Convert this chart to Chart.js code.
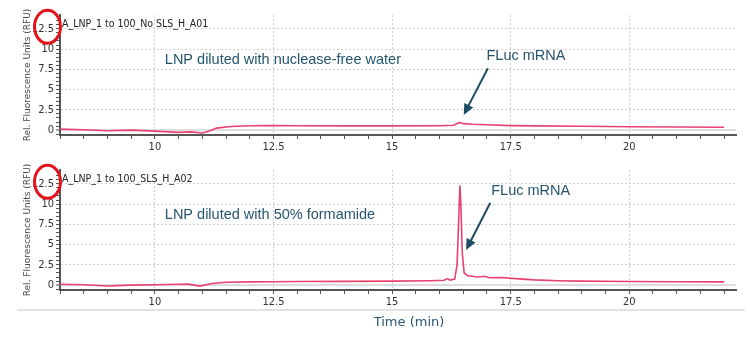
<!DOCTYPE html>
<html>
<head>
<meta charset="utf-8">
<script src="https://cdn.jsdelivr.net/npm/chart.js@4.4.0/dist/chart.umd.min.js"></script>
<style>
  body { margin: 0; background: #fff; }
  #wrap { position: relative; width: 750px; height: 340px; }
  .panel { position: absolute; left: 0; width: 750px; }
  #topPanel { top: 0; height: 155px; }
  #bottomPanel { top: 155px; height: 185px; }
</style>
</head>
<body>
<div id="wrap">
  <div class="panel" id="topPanel"><canvas id="topChart"></canvas></div>
  <div class="panel" id="bottomPanel"><canvas id="bottomChart"></canvas></div>
</div>
<script>
// 물 희석 트레이스 (시간 min / RFU)
const waterTime = [8.0, 8.5, 9.0, 9.5, 10.0, 10.5, 10.75, 11.0, 11.15, 11.3, 11.6, 12.0, 12.5, 13.0, 14.0, 15.0, 16.0, 16.3, 16.42, 16.5, 16.7, 17.0, 17.5, 18.0, 19.0, 20.0, 21.0, 22.0];
const waterRfu = [0.12, 0.05, -0.08, 0.0, -0.12, -0.27, -0.22, -0.36, -0.1, 0.25, 0.45, 0.55, 0.56, 0.54, 0.53, 0.53, 0.55, 0.6, 0.95, 0.8, 0.72, 0.66, 0.56, 0.52, 0.47, 0.42, 0.38, 0.35];

// 50% 포름아마이드 희석 트레이스
const formamideTime = [8.0, 8.5, 9.0, 9.5, 10.0, 10.5, 10.7, 10.95, 11.2, 11.5, 12.0, 12.5, 13.0, 14.0, 15.0, 15.8, 16.1, 16.17, 16.22, 16.32, 16.37, 16.41, 16.43, 16.45, 16.48, 16.52, 16.6, 16.8, 16.95, 17.05, 17.3, 17.6, 18.0, 18.5, 19.0, 20.0, 21.0, 22.0];
const formamideRfu = [0.1, 0.05, -0.1, 0.0, 0.05, 0.1, 0.12, -0.12, 0.2, 0.35, 0.4, 0.42, 0.45, 0.46, 0.5, 0.55, 0.6, 0.8, 0.62, 0.75, 2.5, 9.0, 12.3, 10.0, 4.0, 1.5, 1.15, 1.0, 1.1, 0.92, 0.95, 0.8, 0.65, 0.55, 0.5, 0.45, 0.42, 0.4];

// 눈금 라벨
const timeTicks = [10, 12.5, 15, 17.5, 20];
const rfuTicks = [0, 2.5, 5, 7.5, 10, 12.5];

const sampleNames = ['A_LNP_1 to 100_No SLS_H_A01', 'A_LNP_1 to 100_SLS_H_A02'];
const conditionLabels = ['LNP diluted with nuclease-free water', 'LNP diluted with 50% formamide'];
const peakLabel = 'FLuc mRNA';
const timeTitle = 'Time (min)';

// 주석 위치 (데이터 좌표)
const notePlacement = [
    { textAt: [10.21, 8.65], peakAt: [16.99, 9.14], arrowFrom: [17.02, 7.63], arrowTo: [16.51, 1.87] },
    { textAt: [10.21, 8.65], peakAt: [17.09, 11.65], arrowFrom: [17.07, 10.17], arrowTo: [16.56, 4.33] }
];

const tickFont = { family: '"Liberation Sans Narrow", "DejaVu Sans Condensed", sans-serif', size: 11 };
const noteColor = '#26566e';

// 0.5 간격 보조 눈금
function halfSteps(from, to) {
    const out = [];
    for (let v = from; v <= to + 1e-9; v += 0.5) out.push({ value: v });
    return out;
}

function drawArrow(ctx, x1, y1, x2, y2) {
    const ang = Math.atan2(y2 - y1, x2 - x1);
    const head = 11, half = 5;
    ctx.beginPath();
    ctx.moveTo(x1, y1);
    ctx.lineTo(x2 - Math.cos(ang) * head * 0.8, y2 - Math.sin(ang) * head * 0.8);
    ctx.stroke();
    ctx.beginPath();
    ctx.moveTo(x2, y2);
    ctx.lineTo(x2 - head * Math.cos(ang) + half * Math.sin(ang), y2 - head * Math.sin(ang) - half * Math.cos(ang));
    ctx.lineTo(x2 - head * Math.cos(ang) - half * Math.sin(ang), y2 - head * Math.sin(ang) + half * Math.cos(ang));
    ctx.closePath();
    ctx.fill();
}

function buildPanel(canvasId, times, values, idx, showTimeTitle) {
    const points = times.map((t, i) => ({ x: t, y: values[i] }));
    const note = notePlacement[idx];

    const overlay = {
        id: 'overlay',
        afterDraw(chart) {
            const { ctx, chartArea, scales: { x, y } } = chart;
            ctx.save();

            // 샘플명
            ctx.font = '10.5px "Liberation Sans Narrow", "DejaVu Sans Condensed", sans-serif';
            ctx.fillStyle = '#222';
            ctx.textAlign = 'left';
            ctx.textBaseline = 'middle';
            ctx.fillText(sampleNames[idx], chartArea.left + 2, chartArea.top + 9);

            // 조건 / 피크 라벨
            ctx.font = '14.5px "Liberation Sans", Arial, sans-serif';
            ctx.fillStyle = noteColor;
            ctx.fillText(conditionLabels[idx], x.getPixelForValue(note.textAt[0]), y.getPixelForValue(note.textAt[1]));
            ctx.fillText(peakLabel, x.getPixelForValue(note.peakAt[0]), y.getPixelForValue(note.peakAt[1]));

            ctx.strokeStyle = '#1f4d63';
            ctx.fillStyle = '#1f4d63';
            ctx.lineWidth = 2;
            drawArrow(ctx,
                x.getPixelForValue(note.arrowFrom[0]), y.getPixelForValue(note.arrowFrom[1]),
                x.getPixelForValue(note.arrowTo[0]), y.getPixelForValue(note.arrowTo[1]));

            // 12.5 눈금 강조
            ctx.strokeStyle = '#e3121b';
            ctx.lineWidth = 3;
            ctx.beginPath();
            ctx.ellipse(chartArea.left - 12.5, y.getPixelForValue(12.5) - 2, 13, 16.5, 0, 0, Math.PI * 2);
            ctx.stroke();

            // 하단 구분선 + 시간 축 제목
            if (showTimeTitle) {
                ctx.strokeStyle = '#d9d9d9';
                ctx.lineWidth = 1.5;
                ctx.beginPath();
                ctx.moveTo(17, 155);
                ctx.lineTo(745, 155);
                ctx.stroke();

                ctx.font = '13px "DejaVu Sans", sans-serif';
                ctx.fillStyle = '#2b5873';
                ctx.textAlign = 'center';
                ctx.fillText(timeTitle, 409, 168);
            }
            ctx.restore();
        }
    };

    return new Chart(document.getElementById(canvasId), {
        type: 'line',
        plugins: [overlay],
        data: {
            datasets: [{
                data: points,
                borderColor: '#e8436f',
                borderWidth: 1.6,
                pointRadius: 0,
                tension: 0,
                fill: false
            }]
        },
        options: {
            responsive: true,
            maintainAspectRatio: false,
            animation: false,
            devicePixelRatio: 1,
            layout: { padding: { top: 15, right: 14, left: 0, bottom: 0 } },
            plugins: { legend: { display: false }, tooltip: { enabled: false } },
            scales: {
                x: {
                    type: 'linear',
                    min: 8,
                    max: 22.25,
                    afterBuildTicks: scale => { scale.ticks = halfSteps(8, 22); },
                    afterFit: scale => { scale.height = showTimeTitle ? 50 : 20; },
                    ticks: {
                        autoSkip: false,
                        maxRotation: 0,
                        padding: 2,
                        color: '#333',
                        font: tickFont,
                        callback: v => timeTicks.includes(v) ? String(v) : ''
                    },
                    grid: {
                        color: c => (c.tick && timeTicks.includes(c.tick.value)) ? '#cfcfcf' : 'transparent',
                        lineWidth: 1,
                        tickLength: 4,
                        tickColor: '#555',
                        tickWidth: 1
                    },
                    border: { display: true, color: '#555', width: 2, dash: [2, 2] }
                },
                y: {
                    type: 'linear',
                    min: -0.6,
                    max: 14.2,
                    afterBuildTicks: scale => { scale.ticks = halfSteps(-0.5, 14); },
                    afterFit: scale => { scale.width = 60; },
                    ticks: {
                        autoSkip: false,
                        padding: 2,
                        color: '#333',
                        font: tickFont,
                        callback: v => rfuTicks.includes(v) ? String(v) : ''
                    },
                    grid: {
                        color: c => {
                            if (!c.tick) return 'transparent';
                            if (c.tick.value === 0) return '#dddddd';
                            return rfuTicks.includes(c.tick.value) ? '#cfcfcf' : 'transparent';
                        },
                        lineWidth: c => (c.tick && c.tick.value === 0) ? 2 : 1,
                        tickLength: 4,
                        tickColor: '#555',
                        tickWidth: 1
                    },
                    border: {
                        display: true,
                        color: '#555',
                        width: 2,
                        dash: c => (c.tick && c.tick.value === 0) ? [] : [2, 2]
                    },
                    title: {
                        display: true,
                        text: 'Rel. Fluorescence Units (RFU)',
                        color: '#444',
                        font: { family: '"DejaVu Sans", sans-serif', size: 9 },
                        padding: { top: 22, bottom: 0 }
                    }
                }
            }
        }
    });
}

buildPanel('topChart', waterTime, waterRfu, 0, false);
buildPanel('bottomChart', formamideTime, formamideRfu, 1, true);
</script>
</body>
</html>
